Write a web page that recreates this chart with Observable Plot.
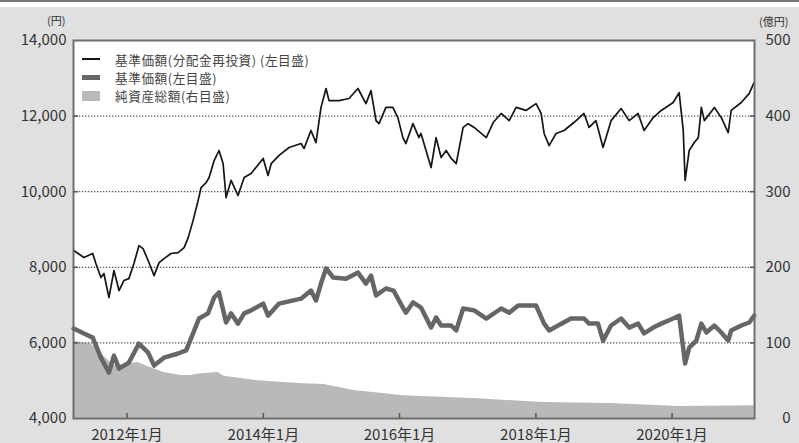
<!DOCTYPE html>
<html><head><meta charset="utf-8">
<script src="https://cdn.jsdelivr.net/npm/d3@7"></script>
<script src="https://cdn.jsdelivr.net/npm/@observablehq/plot@0.6"></script>
<style>
body{margin:0;background:#fff;}
#wrap{position:relative;width:799px;height:443px;font-family:"Noto Sans CJK JP","Noto Sans",sans-serif;}
#legend{position:absolute;left:82px;top:50px;font-size:12.6px;color:#444;letter-spacing:0.6px;}
.row{display:flex;align-items:center;height:18.4px;white-space:nowrap}
.sw{width:18px;margin-right:15px;display:inline-block}
</style></head><body><div id="wrap"><div id="legend"></div></div>
<script>
// 基準価額(分配金再投資) 円
const reinvDates = ["2011-03-21","2011-05-15","2011-07-01","2011-07-18","2011-08-14","2011-08-30","2011-09-26","2011-10-23","2011-11-19","2011-12-15","2012-01-11","2012-02-07","2012-03-05","2012-03-27","2012-04-23","2012-05-25","2012-06-21","2012-07-17","2012-08-24","2012-10-01","2012-11-02","2012-11-24","2012-12-20","2013-01-16","2013-02-01","2013-02-28","2013-03-16","2013-04-12","2013-05-08","2013-05-30","2013-06-15","2013-07-12","2013-08-18","2013-09-20","2013-10-27","2013-12-31","2014-01-26","2014-02-12","2014-03-26","2014-05-19","2014-07-22","2014-08-07","2014-09-13","2014-10-10","2014-11-06","2014-12-03","2014-12-19","2015-02-11","2015-04-05","2015-05-23","2015-07-05","2015-08-01","2015-08-28","2015-09-13","2015-10-20","2015-11-26","2015-12-23","2016-01-19","2016-02-04","2016-03-13","2016-04-14","2016-04-25","2016-06-18","2016-07-15","2016-08-11","2016-09-07","2016-10-04","2016-10-31","2016-12-07","2017-01-03","2017-02-04","2017-04-10","2017-05-17","2017-06-29","2017-08-11","2017-09-17","2017-11-09","2018-01-02","2018-01-29","2018-02-14","2018-03-13","2018-04-19","2018-06-01","2018-07-24","2018-09-16","2018-10-13","2018-11-19","2018-12-27","2019-02-08","2019-04-03","2019-05-16","2019-07-03","2019-08-04","2019-09-22","2019-11-04","2020-01-07","2020-02-08","2020-03-01","2020-03-11","2020-04-02","2020-04-29","2020-05-21","2020-06-06","2020-06-22","2020-08-15","2020-09-21","2020-10-28","2020-11-13","2021-01-06","2021-02-18","2021-03-16"];
const reinvValues = [8444,8260,8365,8100,7730,7835,7200,7915,7385,7650,7700,8100,8575,8495,8180,7780,8125,8230,8365,8390,8520,8785,9235,9765,10110,10240,10375,10825,11090,10745,9845,10300,9900,10375,10480,10880,10430,10745,10960,11170,11275,11140,11620,11300,12230,12730,12410,12410,12465,12730,12330,12675,11880,11800,12230,12230,11960,11430,11275,11800,11430,11540,10640,11430,10905,11090,10880,10745,11700,11800,11700,11430,11830,12070,11880,12230,12150,12330,12070,11540,11220,11540,11620,11830,12070,11700,11880,11170,11880,12200,11880,12070,11620,11960,12150,12360,12620,11620,10300,11090,11300,11430,12230,11880,12230,11960,11565,12150,12360,12600,12890];

// 基準価額 円
const navDates = ["2011-03-21","2011-05-15","2011-07-01","2011-08-14","2011-09-26","2011-10-23","2011-11-19","2012-01-11","2012-03-05","2012-04-23","2012-05-25","2012-07-17","2012-10-01","2012-11-13","2012-12-20","2013-01-21","2013-03-10","2013-04-12","2013-05-08","2013-06-15","2013-07-12","2013-08-18","2013-09-20","2013-10-27","2013-12-31","2014-01-26","2014-03-26","2014-07-22","2014-09-13","2014-10-10","2014-11-06","2014-12-03","2015-01-10","2015-03-20","2015-05-23","2015-07-05","2015-08-01","2015-08-28","2015-10-20","2015-11-30","2016-01-19","2016-02-04","2016-03-13","2016-04-25","2016-06-18","2016-07-15","2016-08-11","2016-10-04","2016-10-31","2016-12-07","2017-02-04","2017-04-10","2017-06-29","2017-08-11","2017-09-28","2018-01-02","2018-02-14","2018-03-13","2018-04-30","2018-07-08","2018-09-16","2018-10-13","2018-11-30","2018-12-27","2019-02-08","2019-04-03","2019-05-16","2019-07-03","2019-08-04","2019-09-22","2019-11-04","2020-01-07","2020-02-08","2020-03-11","2020-04-02","2020-05-10","2020-06-06","2020-07-03","2020-08-15","2020-09-21","2020-10-28","2020-11-13","2021-01-06","2021-02-18","2021-03-16"];
const navValues = [6380,6250,6140,5610,5215,5665,5320,5480,5980,5745,5400,5610,5720,5800,6250,6645,6780,7200,7335,6540,6780,6510,6780,6860,7040,6720,7040,7170,7385,7120,7570,7970,7730,7700,7860,7570,7780,7255,7440,7385,6935,6800,7070,6935,6405,6670,6460,6460,6330,6910,6860,6645,6910,6800,6990,6990,6510,6330,6460,6645,6645,6510,6510,6060,6460,6645,6405,6510,6250,6405,6510,6645,6720,5455,5875,6060,6510,6275,6460,6275,6060,6330,6460,6540,6720];

// 純資産総額 億円
const assetDates = ["2011-03-21","2011-06-21","2011-08-14","2011-10-23","2012-02-28","2012-05-09","2012-07-17","2012-10-17","2012-12-09","2013-01-16","2013-05-03","2013-06-04","2013-12-03","2014-08-07","2014-11-22","2015-05-01","2016-01-25","2017-02-26","2018-02-14","2019-02-08","2020-02-02","2021-03-16"];
const assetValues = [102,99,86,70,74,67,61,57,57,59,61,56,50,46,45,37,30,26,21,20,16,17];

const legendLabels = ["基準価額(分配金再投資) (左目盛)","基準価額(左目盛)","純資産総額(右目盛)"];
const leftTicks = [4000,6000,8000,10000,12000,14000];
const gridTicks = [6000,8000,10000,12000];
const rightTicks = [0,100,200,300,400,500];
const xTickDates = ["2012-01-01","2014-01-01","2016-01-01","2018-01-01","2020-01-01"];
const xTickLabels = ["2012年1月","2014年1月","2016年1月","2018年1月","2020年1月"];
const unitLeft = "(円)";
const unitRight = "(億円)";

const toLeft = v => 4000 + v * 20; // right-axis (億円) -> left-axis scale
const reinv = reinvDates.map((d, i) => ({date: new Date(d), value: reinvValues[i]}));
const nav = navDates.map((d, i) => ({date: new Date(d), value: navValues[i]}));
const assets = assetDates.map((d, i) => ({date: new Date(d), value: assetValues[i]}));
const xTicks = xTickDates.map(d => new Date(d));
const xLabel = d => xTickLabels[xTicks.findIndex(t => +t === +d)];

const font = '"Noto Sans CJK JP","Noto Sans",sans-serif';
const chart = Plot.plot({
  width: 799, height: 443,
  marginLeft: 73, marginRight: 45, marginTop: 40, marginBottom: 25,
  style: {background: "linear-gradient(#777 0 2px,#fff 2px 7px,#e0e0e0 7px)", fontFamily: font, fontSize: "15px", color: "#333", overflow: "visible"},
  x: {type: "utc", domain: [new Date("2011-03-20"), new Date("2021-03-18")], label: null},
  y: {domain: [4000, 14000], label: null},
  marks: [
    Plot.frame({fill: "white"}),
    Plot.areaY(assets, {x: "date", y1: () => 4000, y2: d => toLeft(d.value), fill: "#b9b9b9", curve: "linear"}),
    Plot.ruleY(gridTicks, {stroke: "#555", strokeWidth: 1.2, strokeDasharray: "1.3,1.7"}),
    Plot.lineY(nav, {x: "date", y: "value", stroke: "#666", strokeWidth: 4.5, strokeLinejoin: "round"}),
    Plot.lineY(reinv, {x: "date", y: "value", stroke: "#151515", strokeWidth: 1.7, strokeLinejoin: "round"}),
    Plot.frame({stroke: "#6e6e6e", strokeWidth: 2}),
    Plot.axisY(leftTicks, {anchor: "left", tickSize: 0, tickPadding: 7, tickFormat: d3.format(","), fontSize: 15, fill: "#333", label: null}),
    Plot.axisY(gridTicks, {anchor: "left", tickSize: -5, tickFormat: () => "", stroke: "#555", strokeWidth: 1.5, label: null}),
    Plot.axisY(rightTicks.map(toLeft), {anchor: "right", tickSize: 0, tickPadding: 0, textAnchor: "end", dx: 36, tickFormat: d => String((d - 4000) / 20), fontSize: 15, fill: "#333", label: null}),
    Plot.axisY(gridTicks, {anchor: "right", tickSize: -5, tickFormat: () => "", stroke: "#555", strokeWidth: 1.5, label: null}),
    Plot.axisX(xTicks, {anchor: "bottom", tickSize: 0, tickPadding: 11, tickFormat: xLabel, fontSize: 15, fill: "#333", label: null}),
    Plot.axisX(xTicks, {anchor: "bottom", tickSize: -5, tickFormat: () => "", stroke: "#555", strokeWidth: 1.5, label: null}),
    Plot.text([unitLeft], {frameAnchor: "top-left", dx: -8, dy: -23, textAnchor: "end", fontSize: 11, fill: "#333"}),
    Plot.text([unitRight], {frameAnchor: "top-right", dx: 34, dy: -22, textAnchor: "end", fontSize: 11, fill: "#333"})
  ]
});
document.getElementById("wrap").prepend(chart);

const swatches = [
  '<span class="sw" style="height:2px;background:#151515"></span>',
  '<span class="sw" style="height:4.5px;background:#666"></span>',
  '<span class="sw" style="height:10px;background:#b9b9b9"></span>'
];
document.getElementById("legend").innerHTML = legendLabels.map((t, i) =>
  `<div class="row">${swatches[i]}<span>${t}</span></div>`).join("");
</script>
</body></html>
